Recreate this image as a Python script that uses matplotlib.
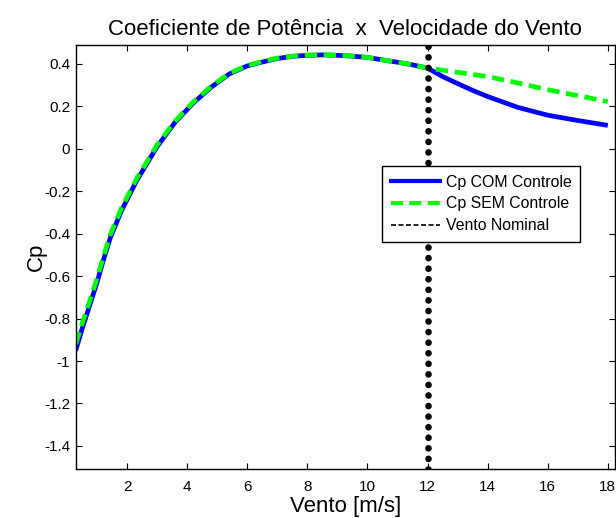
import matplotlib
matplotlib.use("Agg")
import matplotlib.pyplot as plt
from matplotlib.lines import Line2D

plt.rcParams['font.family'] = ['Liberation Sans', 'DejaVu Sans']

# wind speed [m/s] and Cp
vento = [0.29, 0.5, 0.75, 1.0, 1.2, 1.44, 1.82, 2.32, 3.0, 3.6, 4.2,
         4.8, 5.4, 6.0, 6.4, 7.0, 7.5, 8.0, 8.5, 9.0, 9.5, 10.0, 10.75,
         11.4, 12.0, 12.5, 13.0, 13.5, 14.0, 15.0, 16.0, 17.0, 18.0]
cp_com = [-0.95, -0.85, -0.74, -0.63, -0.53, -0.42, -0.29, -0.15, 0.01,
          0.125, 0.215, 0.29, 0.352, 0.39, 0.405, 0.425, 0.435, 0.44,
          0.442, 0.44, 0.436, 0.43, 0.413, 0.398, 0.38, 0.34, 0.307,
          0.275, 0.246, 0.195, 0.158, 0.133, 0.11]
cp_sem = [-0.92, -0.825, -0.72, -0.61, -0.515, -0.405, -0.278, -0.14,
          0.018, 0.13, 0.22, 0.294, 0.355, 0.392, 0.407, 0.427, 0.436,
          0.441, 0.443, 0.441, 0.437, 0.43, 0.413, 0.398, 0.38, 0.37,
          0.36, 0.35, 0.34, 0.31, 0.278, 0.25, 0.222]
vento_nominal = 12

xticks = [2, 4, 6, 8, 10, 12, 14, 16, 18]
yticks = [0.4, 0.2, 0, -0.2, -0.4, -0.6, -0.8, -1, -1.2, -1.4]
ytick_labels = ['0.4', '0.2', '0', '-0.2', '-0.4', '-0.6', '-0.8', '-1',
                '-1.2', '-1.4']

fig = plt.figure(figsize=(6.16, 5.18), dpi=100)
ax = fig.add_axes([0.1229, 0.094, 0.8755, 0.8197])

ax.plot(vento, cp_com, color='#0000ff', lw=3.4, solid_capstyle='butt')
ax.plot(vento, cp_sem, color='#00ff00', lw=3.4, dashes=(2.6, 1.4))
ax.axvline(vento_nominal, color='black', lw=4.8, dashes=(0.01, 1.575),
           dash_capstyle='round')

ax.set_xlim(0.29, 18.24)
ax.set_ylim(-1.51, 0.49)
ax.set_xticks(xticks)
ax.set_xticklabels([str(t) for t in xticks])
ax.set_yticks(yticks)
ax.set_yticklabels(ytick_labels)
ax.tick_params(direction='in', top=True, right=True, length=4, width=0.8,
               labelsize=11)
ax.tick_params(axis='x', pad=8)
ax.tick_params(axis='y', pad=4)
for s in ax.spines.values():
    s.set_linewidth(1.0)

ax.set_title('Coeficiente de Potência  x  Velocidade do Vento', fontsize=16,
             pad=7)
ax.set_xlabel('Vento [m/s]', fontsize=16, labelpad=1)
ax.set_ylabel('Cp', fontsize=16, labelpad=-2)

handles = [
    Line2D([], [], color='#0000ff', lw=3),
    Line2D([], [], color='#00ff00', lw=3, dashes=(2.9, 1.5)),
    Line2D([], [], color='black', lw=1.2, dashes=(3, 1.5)),
]
labels = ['Cp COM Controle', 'Cp SEM Controle', 'Vento Nominal']
leg = ax.legend(handles, labels, loc='upper right',
                bbox_to_anchor=(0.935, 0.714), fontsize=11.4, frameon=True,
                fancybox=False, edgecolor='black', framealpha=1,
                handlelength=3.1, handletextpad=0.35, labelspacing=0.42,
                borderpad=0.55, borderaxespad=0)
leg.get_frame().set_linewidth(1.0)

fig.savefig('out.png', dpi=100)
